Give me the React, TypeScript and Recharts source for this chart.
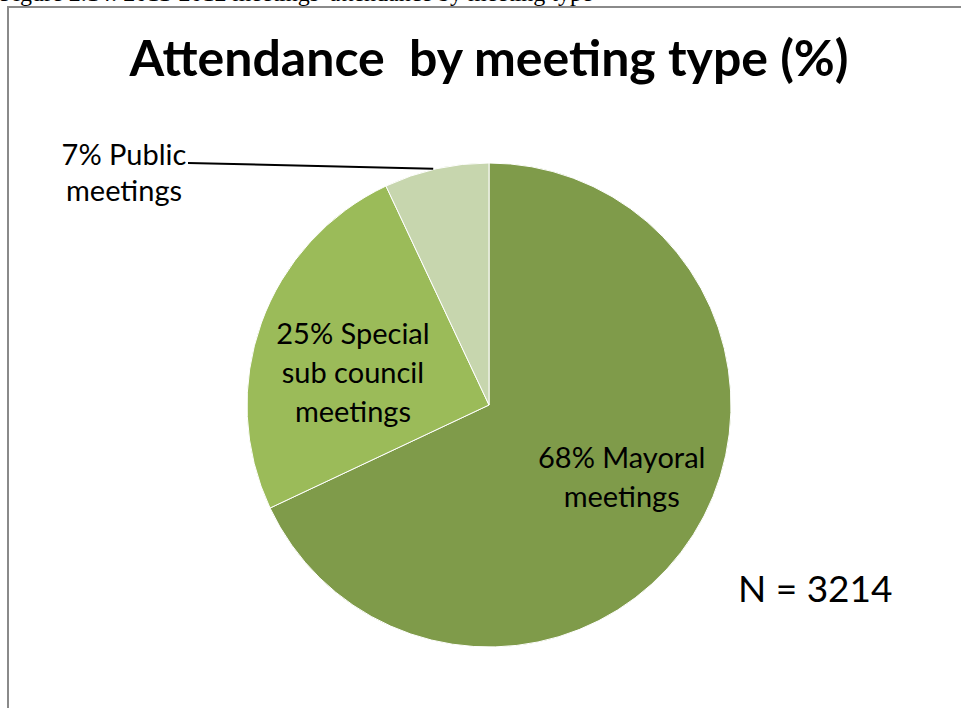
import { PieChart, Pie, Cell } from 'recharts';

const categories = ['Mayoral meetings', 'Special sub council meetings', 'Public meetings'];
const shares = [68, 25, 7];
const labelLines = [
  ['68% Mayoral', 'meetings'],
  ['25% Special', 'sub council', 'meetings'],
  ['7% Public', 'meetings'],
];
const colors = ['#7F9B4A', '#9BBB59', '#C7D6AE'];
const totalN = 3214;

const data = categories.map((name, i) => ({ name, value: shares[i] }));

const RAD = Math.PI / 180;
const FONT = 'Lato, "Open Sans", sans-serif';

// label placement tweaks per slice: [radius factor, dx, dy]
const inside: Record<number, [number, number, number]> = {
  0: [0.63, 4, -8],
  1: [0.58, -4, 17],
};

function renderLabel(props: any) {
  const { cx, cy, midAngle, outerRadius, index } = props;
  const lines = labelLines[index];
  const lh = 39;
  if (index === 2) {
    const sx = cx + outerRadius * Math.cos(-midAngle * RAD);
    const sy = cy + outerRadius * Math.sin(-midAngle * RAD);
    const ex = 188;
    const ey = 163;
    return (
      <g>
        <line x1={sx - 3} y1={sy} x2={ex} y2={ey} stroke="#000" strokeWidth={2} />
        <text x={ex - 64} y={ey} textAnchor="middle" fontFamily={FONT} fontSize={29} fill="#000">
          {lines.map((l, k) => (
            <tspan key={k} x={ex - 64} y={ey + 2 + k * 36}>
              {l}
            </tspan>
          ))}
        </text>
      </g>
    );
  }
  const [f, dx, dy] = inside[index];
  const x = cx + outerRadius * f * Math.cos(-midAngle * RAD) + dx;
  const y = cy + outerRadius * f * Math.sin(-midAngle * RAD) + dy;
  const top = y - ((lines.length - 1) * lh) / 2 + 9;
  return (
    <text x={x} y={top} textAnchor="middle" fontFamily={FONT} fontSize={29} fill="#000">
      {lines.map((l, k) => (
        <tspan key={k} x={x} y={top + k * lh}>
          {l}
        </tspan>
      ))}
    </text>
  );
}

export default function App() {
  return (
    <div
      style={{
        position: 'fixed',
        left: 0,
        top: 0,
        width: 961,
        height: 708,
        overflow: 'hidden',
        background: '#fff',
      }}
    >
      <div
        style={{
          position: 'absolute',
          left: 0,
          top: -20,
          fontFamily: '"Liberation Serif", serif',
          fontSize: 24,
          whiteSpace: 'nowrap',
          color: '#000',
        }}
      >
        Figure 2.14: 2011-2012 meetings' attendance by meeting type
      </div>
      <div
        style={{
          position: 'absolute',
          left: 7,
          top: 6,
          width: 1000,
          height: 800,
          border: '2px solid #8a8a8a',
          boxSizing: 'border-box',
        }}
      />
      <div
        style={{
          position: 'absolute',
          left: 0,
          width: 978,
          top: 27,
          textAlign: 'center',
          fontFamily: FONT,
          fontWeight: 700,
          fontSize: 50,
          color: '#000',
          whiteSpace: 'pre',
        }}
      >
        {'Attendance  by meeting type (%)'}
      </div>
      <div
        style={{
          position: 'absolute',
          left: 738,
          top: 565,
          fontFamily: FONT,
          fontSize: 37,
          color: '#000',
        }}
      >
        N = {totalN}
      </div>
      <div style={{ position: 'absolute', left: 0, top: 0 }}>
        <PieChart width={961} height={708} margin={{ top: 0, right: 0, bottom: 0, left: 0 }}>
          <Pie
            data={data}
            dataKey="value"
            nameKey="name"
            cx={489}
            cy={405}
            outerRadius={242}
            startAngle={90}
            endAngle={-270}
            stroke="#fff"
            strokeWidth={1}
            label={renderLabel}
            labelLine={false}
            isAnimationActive={false}
          >
            {data.map((d, i) => (
              <Cell key={d.name} fill={colors[i]} />
            ))}
          </Pie>
        </PieChart>
      </div>
    </div>
  );
}
